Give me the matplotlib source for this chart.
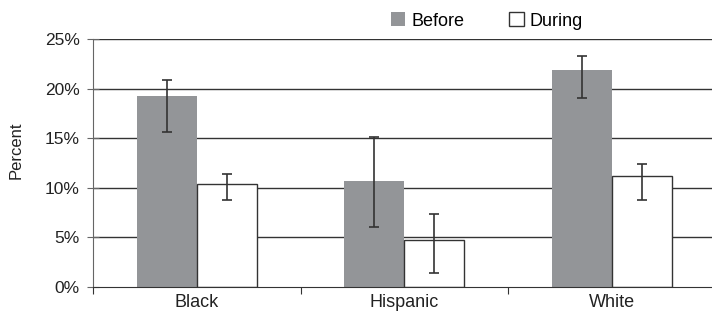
import matplotlib
matplotlib.use("Agg")
import matplotlib.pyplot as plt
import numpy as np

plt.rcParams['font.family'] = ['Liberation Sans', 'DejaVu Sans']

groups = ["Black", "Hispanic", "White"]
before = [19.3, 10.7, 21.9]
before_low = [15.6, 6.0, 19.1]
before_high = [20.9, 15.1, 23.3]
during = [10.35, 4.7, 11.15]
during_low = [8.8, 1.4, 8.8]
during_high = [11.4, 7.35, 12.4]
yticks = [0, 5, 10, 15, 20, 25]
ytick_labels = ["0%", "5%", "10%", "15%", "20%", "25%"]

fig = plt.figure(figsize=(7.12, 3.2), dpi=100)
ax = fig.add_axes([93 / 712, 0.104, 622.5 / 712, 0.773])

x = np.arange(len(groups))
w = 0.29
line_col = "#333333"
text_col = "#222222"

for yv in yticks[1:]:
    ax.axhline(yv, color=line_col, lw=1.0, zorder=1)

before = np.array(before)
during = np.array(during)
b_err = [before - np.array(before_low), np.array(before_high) - before]
d_err = [during - np.array(during_low), np.array(during_high) - during]

ax.bar(x - w / 2, before, width=w, color="#939598", edgecolor="none",
       zorder=2, label="Before")
ax.bar(x + w / 2, during, width=w, color="white", edgecolor=line_col,
       linewidth=1.0, zorder=2, label="During")
ax.errorbar(x - w / 2, before, yerr=b_err, fmt="none", ecolor=line_col,
            elinewidth=1.2, capsize=3.5, capthick=1.2, zorder=3)
ax.errorbar(x + w / 2, during, yerr=d_err, fmt="none", ecolor=line_col,
            elinewidth=1.2, capsize=3.5, capthick=1.2, zorder=3)

ax.set_xlim(-0.5, 2.5)
ax.set_ylim(0, 25)
ax.set_yticks(yticks)
ax.set_yticklabels(ytick_labels, fontsize=12.5, color=text_col)
ax.set_xticks([-0.5, 0.5, 1.5])
ax.set_xticklabels([])
ax.set_xticks(x, minor=True)
ax.set_xticklabels(groups, minor=True, fontsize=13, color=text_col)
ax.tick_params(axis="x", which="minor", length=0, pad=5)
ax.tick_params(axis="x", which="major", length=5, color=line_col, direction="out")
ax.tick_params(axis="y", length=9, color="#666666", direction="inout", pad=5)

for s in ["top", "right"]:
    ax.spines[s].set_visible(False)
ax.spines["left"].set_color("#666666")
ax.spines["bottom"].set_color(line_col)
ax.set_ylabel("Percent", fontsize=12, color=text_col)
ax.yaxis.set_label_coords(24 / 712, 1 - 150 / 320, transform=fig.transFigure)

fig.legend(loc="center", bbox_to_anchor=(487 / 712, 1 - 21 / 320), ncol=2,
           frameon=False, fontsize=13, handlelength=0.78, handleheight=0.78,
           handletextpad=0.35, columnspacing=2.5, borderaxespad=0,
           borderpad=0)

fig.savefig("out.png", dpi=100)
